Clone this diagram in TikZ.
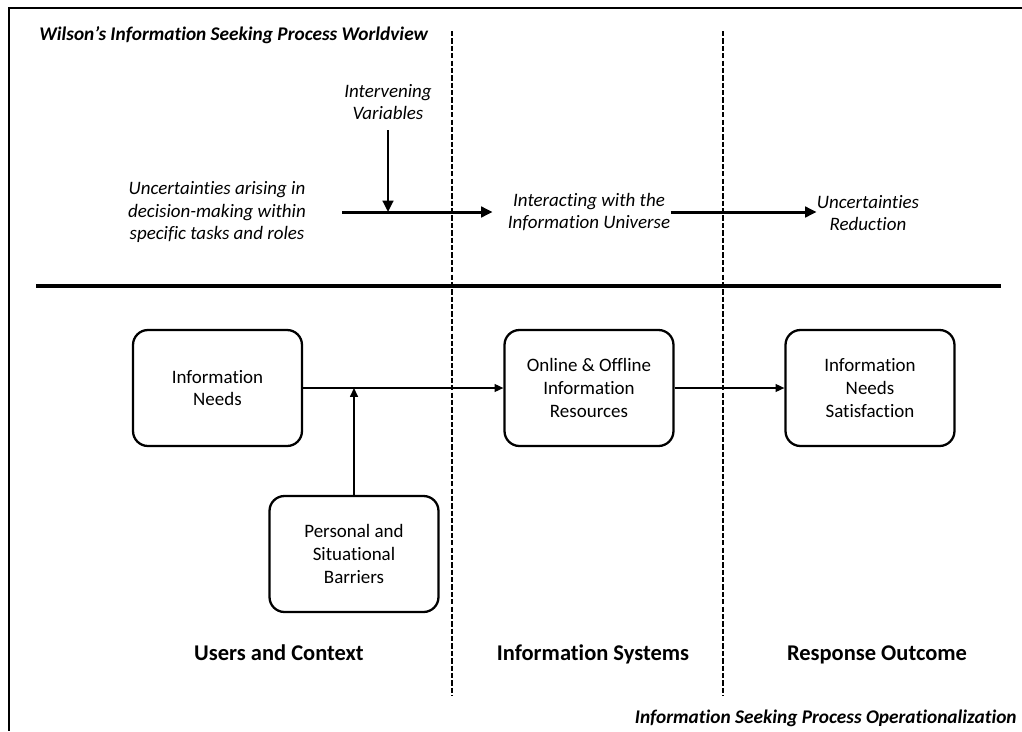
\documentclass[tikz,border=0pt]{standalone}
\usepackage{fontspec}
\setmainfont{Carlito}[Ligatures={NoCommon,NoRare,NoContextual}]
\usetikzlibrary{arrows.meta}

\begin{document}
\begin{tikzpicture}[x=0.02cm,y=-0.02cm,
  box/.style={draw,line width=1.3pt,rounded corners=8.5pt,minimum width=3.38cm,minimum height=2.32cm,align=center,font=\fontsize{10.8}{13}\selectfont},
  itext/.style={align=center,inner sep=0pt,font=\fontsize{10.8}{13}\selectfont\itshape},
  colhead/.style={anchor=base,font=\fontsize{12.8}{15}\selectfont\bfseries},
  corner/.style={inner sep=0pt,font=\fontsize{11}{13}\selectfont\bfseries\itshape},
  bigarrow/.style={line width=1.7pt,-{Triangle[length=6.5pt,width=6pt]}},
  arr/.style={line width=0.75pt,-{Triangle[length=5pt,width=4.5pt]}},
  divline/.style={line width=1.1pt,dash pattern=on 3pt off 1.2pt}]
\useasboundingbox (0,0) rectangle (1022,731);

% Frame and dividers
\draw[line width=1.7pt] (1022,8) -- (9,8) -- (9,731);
\draw[line width=2.3pt] (36,286) -- (1001,286);
\draw[divline] (452,31) -- (452,696);
\draw[divline] (723,31) -- (723,696);

% Worldview (top)
\node[corner,anchor=west] (worldview) at (39,35) {Wilson’s Information Seeking Process Worldview};
\node[itext] (interv) at (388,102) {Intervening\\Variables};
\node[itext] (uncert) at (217,212) {Uncertainties arising in\\decision-making within\\specific tasks and roles};
\node[itext] (interact) at (589,212) {Interacting with the\\Information Universe};
\node[itext] (reduct) at (868,213) {Uncertainties\\Reduction};

\draw[bigarrow] (uncert.east) ++(36,0) -- (interact.west) [shorten >=8.5pt];
\draw[bigarrow] (interv.south) ++(0,10) -- (interv |- uncert.east);
\draw[bigarrow] (interact.east) -- (interact.east -| reduct.west);

% Operationalization (bottom)
\node[box] (needs) at (217.5,388) {Information\\Needs};
\node[box] (barriers) at (354,554) {Personal and\\Situational\\Barriers};
\node[box] (online) at (589,388) {Online \& Offline\\Information\\Resources};
\node[box] (satisf) at (870,388) {Information\\Needs\\Satisfaction};

\draw[arr] (needs) -- (online);
\draw[arr] (barriers) -- (barriers |- needs.east);
\draw[arr] (online) -- (satisf);

% Column labels
\node[colhead] (users) at (279,660) {Users and Context};
\node[colhead] (systems) at (593,660) {Information Systems};
\node[colhead] (outcome) at (877,660) {Response Outcome};
\node[corner,anchor=east] (operational) at (1017,718) {Information Seeking Process Operationalization};
\end{tikzpicture}
\end{document}
